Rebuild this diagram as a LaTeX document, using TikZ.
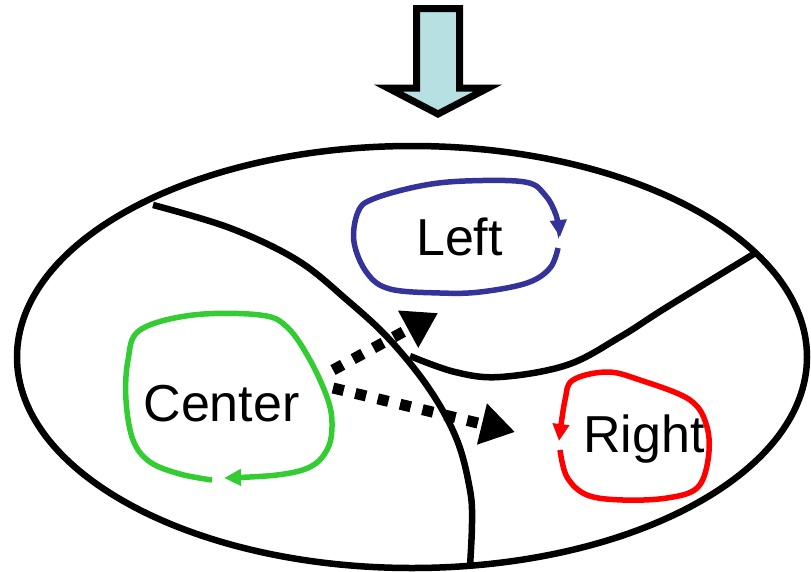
\documentclass[tikz,border=0pt]{standalone}
\usepackage{fontspec}
\setmainfont{Liberation Sans}
\usetikzlibrary{arrows.meta}
\definecolor{loopblue}{RGB}{51,51,153}
\definecolor{loopgreen}{RGB}{51,204,51}
\definecolor{loopred}{RGB}{255,0,0}
\definecolor{arrowfill}{RGB}{183,224,226}
\tikzset{
  outline/.style={line width=6.5pt, black},
  divider/.style={line width=6.5pt, black, line cap=butt},
  cyclearrow/.style={line width=5.5pt, -{Triangle[length=17pt,width=16pt]}},
  flowarrow/.style={line width=11pt, dash pattern=on 11pt off 12pt,
    -{Triangle[length=34pt,width=40pt]}},
  regionlabel/.style={font=\fontsize{52}{60}\selectfont, anchor=base, inner sep=0pt},
}
\begin{document}
\begin{tikzpicture}[x=1pt,y=-1pt]
\useasboundingbox (0,0) rectangle (811,571);

% incoming flow arrow at the top
\filldraw[fill=arrowfill, draw=black, line width=7pt, line join=miter]
  (416.5,8.5) -- (459.5,8.5) -- (459.5,88) -- (488,88) -- (438,114)
  -- (388,88) -- (416.5,88) -- cycle;

% outer boundary
\draw[outline] (412,357) ellipse [x radius=395, y radius=211];

% internal boundaries
\draw[divider] plot[smooth, tension=0.6] coordinates
  {(153,205) (230,228) (297,260) (347,300) (390,340) (430,390)
   (457,440) (470,490) (472,523) (470,566)};
\draw[divider] plot[smooth, tension=0.6] coordinates
  {(410,356) (455,372) (500,377) (567,365) (620,337) (667,307) (757,252)};

% region labels
\node[regionlabel] (left)   at (459.5,255) {Left};
\node[regionlabel] (center) at (221.5,421) {Center};
\node[regionlabel] (right)  at (644,452)   {Right};

% circulation loops
\draw[cyclearrow, loopblue] plot[smooth, tension=0.6] coordinates
  {(558,248) (550,268) (527,283) (480,292) (440,293) (390,289) (367,273)
   (354,242) (358,212) (373,199) (420,186) (465,181) (525,182) (545,195)
   (556,215) (560,237)};
\draw[cyclearrow, loopgreen] plot[smooth, tension=0.6] coordinates
  {(212,480) (180,474) (150,462) (133,440) (126,400) (128,360) (140,330)
   (193,315) (260,315) (287,327) (310,360) (328,400) (332,427) (327,450)
   (310,467) (277,475) (224,478)};
\draw[cyclearrow, loopred] plot[smooth, tension=0.6] coordinates
  {(560,450) (567,477) (587,495) (623,500) (667,498) (697,488) (708,460)
   (707,427) (690,400) (640,380) (607,372) (573,380) (565,400) (559,441)};

% exchange between regions
\coordinate (c1) at (333,370);
\coordinate (c2) at (333,388);
\coordinate (l1) at (438,313);
\coordinate (r1) at (515,432);
\draw[flowarrow] (c1) -- (l1);
\draw[flowarrow] (c2) -- (r1);
\end{tikzpicture}
\end{document}
